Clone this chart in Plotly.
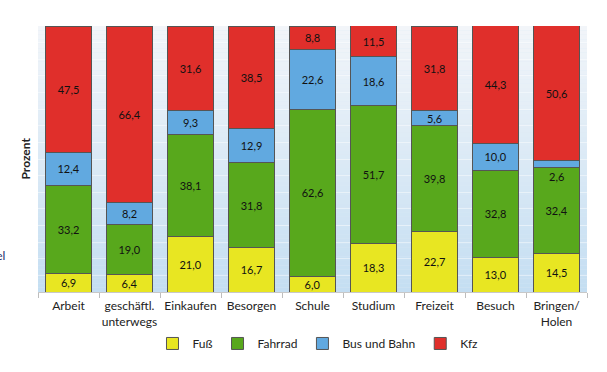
import plotly.graph_objects as go

categories = ["Arbeit", "geschäftl.<br>unterwegs", "Einkaufen", "Besorgen", "Schule",
              "Studium", "Freizeit", "Besuch", "Bringen/<br>Holen"]
fuss = [6.9, 6.4, 21.0, 16.7, 6.0, 18.3, 22.7, 13.0, 14.5]
fahrrad = [33.2, 19.0, 38.1, 31.8, 62.6, 51.7, 39.8, 32.8, 32.4]
bus_bahn = [12.4, 8.2, 9.3, 12.9, 22.6, 18.6, 5.6, 10.0, 2.6]
kfz = [47.5, 66.4, 31.6, 38.5, 8.8, 11.5, 31.8, 44.3, 50.6]

series = [
    ("Fuß", fuss, "#e8e622"),
    ("Fahrrad", fahrrad, "#58a81c"),
    ("Bus und Bahn", bus_bahn, "#61a9e0"),
    ("Kfz", kfz, "#e02f2b"),
]

FONT = "Lato"
SMALL = 4.0


def fmt(v):
    return f"{v:.1f}".replace(".", ",")


fig = go.Figure()
annotations = []
base = [0.0] * len(categories)
for name, vals, color in series:
    fig.add_trace(go.Bar(
        name=name, x=categories, y=vals,
        marker=dict(color=color, line=dict(color="#555555", width=1)),
        text=[fmt(v) for v in vals],
        textposition=["inside" if v >= SMALL else "none" for v in vals],
        insidetextanchor="middle",
        textangle=0,
        textfont=dict(family=FONT, size=11, color="#111111"),
        constraintext="none",
        hoverinfo="skip",
    ))
    for i, v in enumerate(vals):
        if v < SMALL:
            annotations.append(dict(
                x=categories[i], y=base[i], xref="x", yref="y",
                text=fmt(v), showarrow=False, yanchor="top", yshift=-1,
                font=dict(family=FONT, size=11, color="#111111"),
            ))
    base = [b + v for b, v in zip(base, vals)]

# background gradient (light at top, light blue at bottom)
n = 60
top = (242, 245, 249)
bot = (196, 222, 242)
shapes = []
for k in range(n):
    t = (k + 0.5) / n
    c = tuple(int(round(bot[j] + (top[j] - bot[j]) * t)) for j in range(3))
    shapes.append(dict(
        type="rect", xref="x domain", yref="y domain",
        x0=0, x1=1, y0=k / n, y1=(k + 1) / n,
        fillcolor=f"rgb{c}", line=dict(width=0), layer="below",
    ))

annotations.append(dict(
    text="<b>Prozent</b>", xref="paper", yref="paper", x=0, y=0.5,
    xanchor="right", yanchor="middle", xshift=-4, textangle=-90, showarrow=False,
    font=dict(family=FONT, size=12, color="#222222"),
))
annotations.append(dict(
    text="Verkehrsmittel", xref="paper", yref="paper", x=-0.0565, y=0.138,
    xanchor="right", yanchor="middle", showarrow=False,
    font=dict(family=FONT, size=12, color="#1c2d6b"),
))

fig.update_layout(
    width=607, height=372,
    margin=dict(l=38, r=20, t=26, b=80, autoexpand=False),
    paper_bgcolor="white",
    plot_bgcolor="#dce9f5",
    barmode="stack",
    bargap=0.23,
    font=dict(family=FONT, size=12, color="#222222"),
    showlegend=True,
    legend=dict(orientation="h", x=0.51, xanchor="center", y=-0.139, yanchor="top",
                font=dict(family=FONT, size=12, color="#222222"),
                itemwidth=30, traceorder="normal"),
    shapes=shapes,
    annotations=annotations,
)
fig.update_xaxes(
    showline=True, linecolor="#c8c8c8", linewidth=1, tickangle=0, automargin=False,
    ticks="outside", tickson="boundaries", ticklen=5, tickcolor="#bdbdbd",
    ticklabelstandoff=3,
    showgrid=False, tickfont=dict(family=FONT, size=12, color="#222222"),
)
fig.update_yaxes(
    range=[0, 100], showticklabels=False, showgrid=True, dtick=6.25,
    gridcolor="rgba(255,255,255,0.45)", gridwidth=1, zeroline=False, automargin=False,
)

fig.write_html(
    "out.html",
    config={"displayModeBar": False},
    post_script="document.body.style.margin='0';document.body.style.overflow='hidden';",
)
